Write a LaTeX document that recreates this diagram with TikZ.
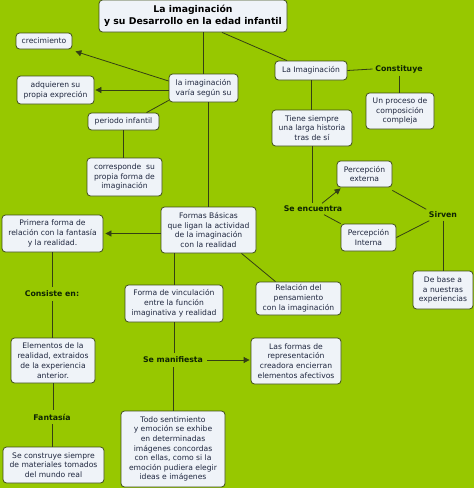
\documentclass[tikz,border=0pt]{standalone}
\usepackage{fontspec}
\setmainfont{DejaVu Sans}
\usetikzlibrary{arrows.meta}
\definecolor{bggreen}{RGB}{151,200,0}
\definecolor{boxfill}{RGB}{239,243,248}
\definecolor{boxline}{RGB}{62,78,24}
\definecolor{txtcol}{RGB}{30,38,62}
\definecolor{lblcol}{RGB}{14,36,4}
\definecolor{linecol}{RGB}{52,64,20}
\tikzset{
  box/.style={draw=boxline, fill=boxfill, rounded corners=3.5pt, line width=0.8pt,
    inner sep=0pt, align=center, text=txtcol, font=\fontsize{7.6}{9.8}\selectfont},
  titlebox/.style={box, text=black, font=\bfseries\fontsize{9.3}{12}\selectfont},
  lbl/.style={inner sep=2.5pt, text=lblcol, font=\bfseries\fontsize{7.8}{9.8}\selectfont},
  conn/.style={draw=linecol, line width=0.8pt},
  arr/.style={conn, -{Triangle[length=6pt,width=6pt]}}
}
\begin{document}
\begin{tikzpicture}[x=1pt,y=-1pt]
\fill[bggreen] (0,0) rectangle (474,488);
\useasboundingbox (0,0) rectangle (474,488);
% nodes
\node[titlebox, minimum width=188pt, minimum height=32pt] (title) at (193,16) {La imaginación\\y su Desarrollo en la edad infantil};
\node[box, minimum width=56pt, minimum height=16pt] (crec) at (44,41) {crecimiento};
\node[box, minimum width=77pt, minimum height=28pt] (adq) at (55.5,90) {adquieren su\\propia expreción};
\node[box, minimum width=69pt, minimum height=28pt] (varia) at (203.5,88) {la imaginación\\varía según su};
\node[box, minimum width=71pt, minimum height=17pt] (periodo) at (123.5,121.5) {periodo infantil};
\node[box, minimum width=75pt, minimum height=38pt] (corresp) at (124.5,177) {corresponde\ \ su\\propia forma de\\imaginación};
\node[box, minimum width=72pt, minimum height=19pt] (limag) at (311,70.5) {La Imaginación};
\node[lbl] (const) at (399,69) {Constituye};
\node[box, minimum width=68pt, minimum height=36pt] (proceso) at (400,111) {Un proceso de\\composición\\compleja};
\node[box, minimum width=80pt, minimum height=36pt] (tiene) at (312,128) {Tiene siempre\\una larga historia\\tras de sí};
\node[box, minimum width=55pt, minimum height=26pt] (pext) at (364.5,174) {Percepción\\externa};
\node[lbl] (seenc) at (313,209) {Se encuentra};
\node[box, minimum width=55pt, minimum height=27pt] (pint) at (368.5,237.5) {Percepción\\Interna};
\node[lbl] (sirven) at (443,215) {Sirven};
\node[box, minimum width=60pt, minimum height=38pt] (debase) at (443,290) {De base a\\a nuestras\\experiencias};
\node[box, minimum width=95pt, minimum height=46pt] (formas) at (208.5,230) {Formas Básicas\\que ligan la actividad\\de la imaginación\\con la realidad};
\node[box, minimum width=101pt, minimum height=37pt] (primera) at (52.5,233.5) {Primera forma de\\relación con la fantasía\\y la realidad.};
\node[box, minimum width=85pt, minimum height=33pt] (relacion) at (298.5,298.5) {Relación del\\pensamiento\\con la imaginación};
\node[box, minimum width=98pt, minimum height=37pt] (vincul) at (174,303.5) {Forma de vinculación\\entre la función\\imaginativa y realidad};
\node[lbl, inner sep=4pt] (consiste) at (52,294) {Consiste en:};
\node[box, minimum width=84pt, minimum height=45pt] (elementos) at (53,360.5) {Elementos de la\\realidad, extraidos\\de la experiencia\\anterior.};
\node[lbl, inner sep=4pt] (fantasia) at (52,417) {Fantasía};
\node[box, minimum width=101pt, minimum height=36pt] (construye) at (53.5,465) {Se construye siempre\\de materiales tomados\\del mundo real};
\node[lbl, inner sep=4pt] (semanif) at (173,360) {Se manifiesta};
\node[box, minimum width=90pt, minimum height=46pt] (lasformas) at (296,361) {Las formas de\\representación\\creadora encierran\\elementos afectivos};
\node[box, minimum width=104pt, minimum height=76pt, font=\fontsize{7.6}{9.6}\selectfont] (todo) at (173,449) {Todo sentimiento\\y emoción se exhibe\\en determinadas\\imágenes concordas\\con ellas, como si la\\emoción pudiera elegir\\ideas e imágenes};
% connectors
\draw[conn] (varia.north |- title.south) -- (varia.north);
\draw[conn] ([xshift=29pt]title.south) -- ([xshift=-24pt]limag.north);
\draw[arr] ([yshift=7pt]varia.west) -- ([xshift=3pt,yshift=-2pt]crec.south east);
\draw[arr] (varia.west |- adq.east) -- ([xshift=1pt]adq.east);
\draw[conn] ([yshift=2pt]varia.south west) -- ([xshift=23pt]periodo.north);
\draw[conn] (periodo.south) -- (periodo.south |- corresp.north);
\draw[conn] (varia.south -| formas.north) -- (formas.north);
\draw[conn] (limag.east) -- (const.west);
\draw[conn] (const.south) -- (const.south |- proceso.north);
\draw[conn] (limag.south) -- (limag.south |- tiene.north);
\draw[conn] (tiene.south) -- (tiene.south |- seenc.north);
\draw[arr] ([xshift=9pt]seenc.north) -- ([xshift=4pt,yshift=-1pt]pext.south west);
\draw[conn] ([xshift=11pt]seenc.south) -- (pint.north west);
\draw[conn] ([yshift=-3pt]pext.south east) -- (sirven.north west);
\draw[conn] (pint.east) -- ([xshift=3pt]sirven.south west);
\draw[conn] (sirven.south) -- (sirven.south |- debase.north);
\draw[arr] (formas.west |- primera.east) -- ([xshift=2pt]primera.east);
\draw[conn] (vincul.north |- formas.south) -- (vincul.north);
\draw[conn] ([xshift=33pt]formas.south) -- ([xshift=-23pt]relacion.north);
\draw[conn] (primera.south) -- (primera.south |- consiste.north);
\draw[conn] (consiste.south) -- (consiste.south |- elementos.north);
\draw[conn] (elementos.south) -- (elementos.south |- fantasia.north);
\draw[conn] (fantasia.south) -- (fantasia.south |- construye.north);
\draw[conn] (vincul.south) -- (vincul.south |- semanif.north);
\draw[conn] (semanif.south) -- (semanif.south |- todo.north);
\draw[arr] (semanif.east) -- ([xshift=-1pt]semanif.east -| lasformas.west);
\end{tikzpicture}
\end{document}
